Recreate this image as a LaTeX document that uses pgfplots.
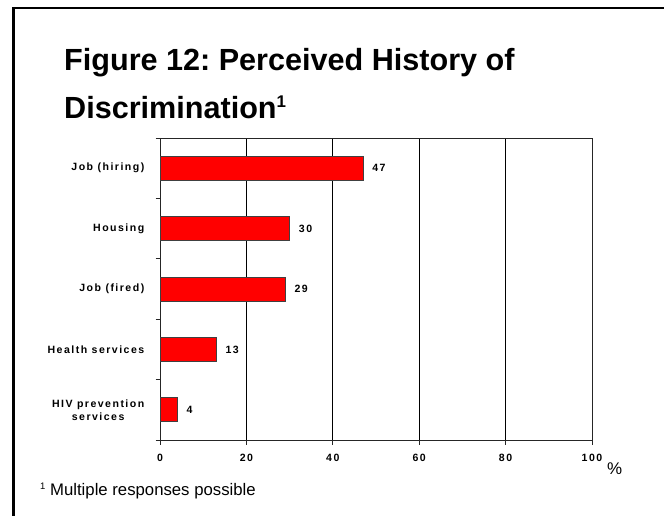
\documentclass[border=0pt]{standalone}
\usepackage{fontspec}
\setmainfont{Liberation Sans}
\newfontfamily\spacedsans[LetterSpace=14]{Liberation Sans}
\usepackage{pgfplots}
\pgfplotsset{compat=1.18}
\frenchspacing

\pgfplotstableread{
y  value
0  47
1  30
2  29
3  13
4  4
}\discrimination

\newcommand\labelfont{\spacedsans\bfseries\fontsize{10.6}{13}\selectfont}

\begin{document}
\begin{tikzpicture}
\path[use as bounding box] (0bp,0bp) rectangle (664bp,-516bp);
% page frame
\draw[line width=2.2bp] (13.5bp,-516bp) -- (13.5bp,-8bp) -- (664bp,-8bp);

% title
\node[anchor=base west, inner sep=0pt, font=\bfseries\fontsize{30.7}{36}\selectfont]
  at (64bp,-70bp) {Figure 12: Perceived History of};
\node[anchor=base west, inner sep=0pt, font=\bfseries\fontsize{30.7}{36}\selectfont]
  at (64bp,-118bp) {Discrimination\raisebox{11bp}{\fontsize{17}{20}\selectfont 1}};

\begin{axis}[
  at={(160bp,-440bp)}, anchor=south west,
  scale only axis, width=432bp, height=302bp,
  xbar, bar width=24bp,
  xmin=0, xmax=100, ymin=-0.5, ymax=4.5, y dir=reverse,
  axis line style={black!85, line width=1bp},
  tick pos=left, tick align=outside,
  major tick length=4.5bp,
  tick style={black!85, line width=1bp},
  xtick={0,20,...,100},
  xmajorgrids, grid style={black, line width=0.8bp},
  ytick={-0.5,0.5,...,4.5}, yticklabels={},
  extra y ticks={0,1,2,3,4},
  extra y tick labels={Job (hiring),Housing,Job (fired),Health services,{HIV prevention\\services}},
  extra y tick style={tick style={draw=none}, grid=none},
  /pgf/number format/assume math mode=true,
  yticklabel style={align=center, inner sep=0pt, xshift=-11bp, font=\labelfont},
  xticklabel style={inner sep=0pt, yshift=-9bp, font=\labelfont},
  nodes near coords,
  nodes near coords style={anchor=west, inner sep=0pt, xshift=9bp, black, font=\labelfont},
]
\addplot[fill=red, draw=black!75, line width=0.7bp] table[x=value, y=y] {\discrimination};
\end{axis}

\node[anchor=base west, inner sep=0pt, font=\fontsize{17}{20}\selectfont] at (607bp,-474bp) {\%};
\node[anchor=base west, inner sep=0pt, font=\fontsize{16.8}{20}\selectfont]
  at (40bp,-495bp) {\raisebox{6bp}{\fontsize{9.5}{11}\selectfont 1} Multiple responses possible};
\end{tikzpicture}
\end{document}
